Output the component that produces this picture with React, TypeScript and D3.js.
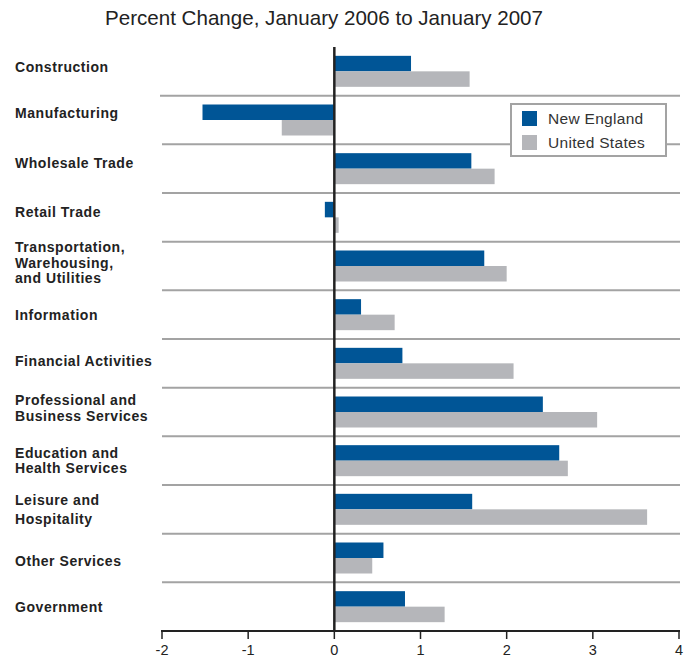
import React from "react";
import * as d3 from "d3";

const categories = [
  "Construction",
  "Manufacturing",
  "Wholesale Trade",
  "Retail Trade",
  "Transportation,\nWarehousing,\nand Utilities",
  "Information",
  "Financial Activities",
  "Professional and\nBusiness Services",
  "Education and\nHealth Services",
  "Leisure and\nHospitality",
  "Other Services",
  "Government",
];
const newEngland = [0.89, -1.53, 1.59, -0.11, 1.74, 0.31, 0.79, 2.42, 2.61, 1.6, 0.57, 0.82];
const unitedStates = [1.57, -0.61, 1.86, 0.05, 2.0, 0.7, 2.08, 3.05, 2.71, 3.63, 0.44, 1.28];
const xTicks = [-2, -1, 0, 1, 2, 3, 4];
const seriesNames = ["New England", "United States"];

// small vertical nudges of the row labels (layout only)
const labelNudge = [-4, -7, -6, -5, -3, 0, -2, -4, 0, 0, 3, 0];

const BLUE = "#005596";
const GRAY = "#b5b6ba";
const SANS = "'Liberation Sans', Arial, Helvetica, sans-serif";

export default function App() {
  const W = 692;
  const H = 660;
  const x = d3.scaleLinear().domain([-2, 4]).range([162, 679]);
  const y = d3.scaleBand<string>().domain(categories).range([47, 631]).padding(0);
  const bw = y.bandwidth();
  const barH = 15.5;
  const x0 = x(0);

  return (
    <svg
      width={W}
      height={H}
      style={{ position: "absolute", left: 0, top: 0, background: "#fff" }}
    >
      <rect width={W} height={H} fill="#fff" />
      <text
        x={105}
        y={25}
        fontFamily={SANS}
        fontSize={21}
        fill="#222"
        textLength={438}
        lengthAdjust="spacingAndGlyphs"
      >
        Percent Change, January 2006 to January 2007
      </text>

      {/* separators */}
      {categories.slice(1).map((c, i) => (
        <line
          key={"sep" + i}
          x1={i === 0 ? 160 : 162}
          x2={680}
          y1={y(c)!}
          y2={y(c)!}
          stroke="#a3a3a3"
          strokeWidth={2}
        />
      ))}

      {/* bars */}
      {categories.map((c, i) => {
        const top = y(c)! + (bw - 2 * barH) / 2;
        const a = newEngland[i];
        const b = unitedStates[i];
        return (
          <g key={"bar" + i}>
            <rect x={Math.min(x(a), x0)} y={top} width={Math.abs(x(a) - x0)} height={barH} fill={BLUE} />
            <rect x={Math.min(x(b), x0)} y={top + barH} width={Math.abs(x(b) - x0)} height={barH} fill={GRAY} />
          </g>
        );
      })}

      {/* labels */}
      {categories.map((c, i) => {
        const lines = c.split("\n");
        const lh = c.startsWith("Leisure") ? 19 : 15.5;
        const cy = y(c)! + bw / 2 + labelNudge[i];
        const startY = cy - ((lines.length - 1) * lh) / 2;
        return (
          <text
            key={"lab" + i}
            fontFamily={SANS}
            fontWeight={700}
            fontSize={14}
            letterSpacing={0.55}
            fill="#222"
          >
            {lines.map((l, j) => (
              <tspan key={j} x={15} y={startY + j * lh} dy="0.35em">
                {l}
              </tspan>
            ))}
          </text>
        );
      })}

      {/* zero line */}
      <line x1={x0} x2={x0} y1={47} y2={632} stroke="#222" strokeWidth={2.5} />

      {/* x axis */}
      <line x1={161} x2={680} y1={631} y2={631} stroke="#222" strokeWidth={2} />
      {xTicks.map((t) => (
        <g key={"t" + t}>
          <line x1={x(t)} x2={x(t)} y1={631} y2={639} stroke="#222" strokeWidth={1.5} />
          <text
            x={x(t)}
            y={655}
            textAnchor="middle"
            fontFamily={SANS}
            fontSize={14.5}
            fill="#222"
          >
            {t}
          </text>
        </g>
      ))}

      {/* legend */}
      <rect x={511} y={104} width={155} height={52} fill="#fff" stroke="#a3a3a3" strokeWidth={2} />
      {seriesNames.map((s, i) => (
        <g key={"leg" + i}>
          <rect x={522} y={111 + i * 24} width={15} height={15} fill={i === 0 ? BLUE : GRAY} />
          <text
            x={548}
            y={118.5 + i * 24}
            dy="0.35em"
            fontFamily={SANS}
            fontSize={15.5}
            letterSpacing={0.3}
            fill="#333"
          >
            {s}
          </text>
        </g>
      ))}
    </svg>
  );
}
